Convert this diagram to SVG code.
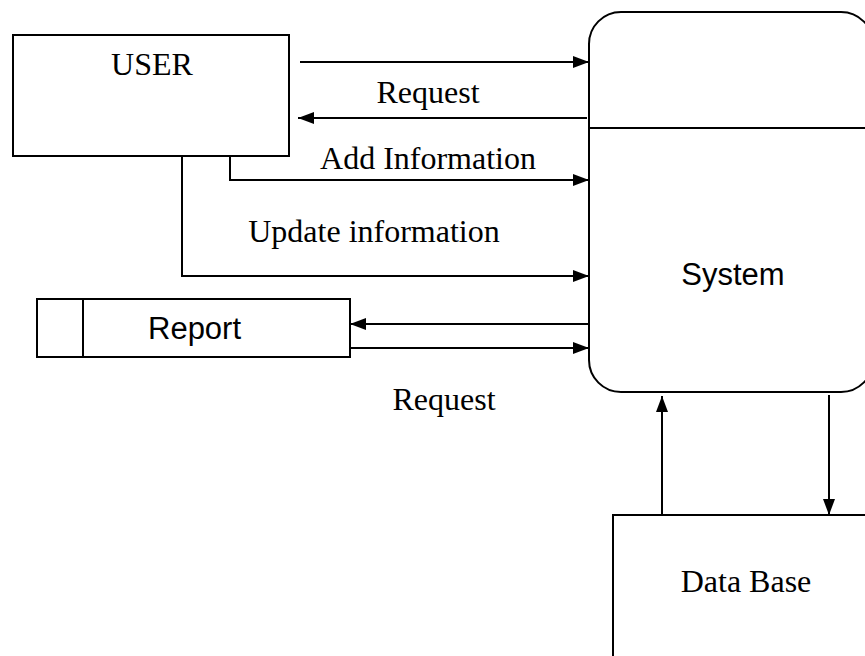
<svg xmlns="http://www.w3.org/2000/svg" width="865" height="656" viewBox="0 0 865 656">
<defs>
<marker id="ah" markerUnits="userSpaceOnUse" markerWidth="16" markerHeight="12" refX="16" refY="6" orient="auto">
<path d="M0,0 L16,6 L0,12 z" fill="#000"/>
</marker>
<style>
.box{fill:#fff;stroke:#000;stroke-width:2}
.ln{fill:none;stroke:#000;stroke-width:2;marker-end:url(#ah)}
.serif{font-family:"Liberation Serif","Times New Roman",serif;font-size:32px;fill:#000}
.sans{font-family:"Liberation Sans",Arial,sans-serif;font-size:31px;fill:#000}
</style>
</defs>
<rect width="865" height="656" fill="#fff"/>
<g id="user">
<rect class="box" x="13" y="35" width="276" height="121"/>
<text class="serif" x="152" y="75" text-anchor="middle">USER</text>
</g>
<g id="system">
<rect class="box" x="589" y="12" width="284" height="380" rx="32" ry="32"/>
<line x1="589" y1="128" x2="873" y2="128" stroke="#000" stroke-width="2"/>
<text class="sans" x="733" y="285" text-anchor="middle">System</text>
</g>
<g id="report">
<rect class="box" x="37" y="299" width="313" height="58"/>
<line x1="83" y1="299" x2="83" y2="357" stroke="#000" stroke-width="2"/>
<text class="sans" x="148" y="339">Report</text>
</g>
<g id="database">
<rect class="box" x="613" y="515" width="262" height="150"/>
<text class="serif" x="746" y="592" text-anchor="middle">Data Base</text>
</g>
<g id="connectors">
<line class="ln" x1="300" y1="62" x2="589" y2="62"/>
<line class="ln" x1="587" y1="118" x2="298" y2="118"/>
<polyline class="ln" points="230,156 230,180 589,180"/>
<polyline class="ln" points="182,156 182,276 589,276"/>
<line class="ln" x1="589" y1="324" x2="350" y2="324"/>
<line class="ln" x1="350" y1="348" x2="589" y2="348"/>
<line class="ln" x1="662" y1="515" x2="662" y2="396"/>
<line class="ln" x1="829" y1="395" x2="829" y2="515"/>
<text class="serif" x="428" y="103" text-anchor="middle">Request</text>
<text class="serif" x="428" y="169" text-anchor="middle">Add Information</text>
<text class="serif" x="374" y="242" text-anchor="middle">Update information</text>
<text class="serif" x="444" y="410" text-anchor="middle">Request</text>
</g>
</svg>
